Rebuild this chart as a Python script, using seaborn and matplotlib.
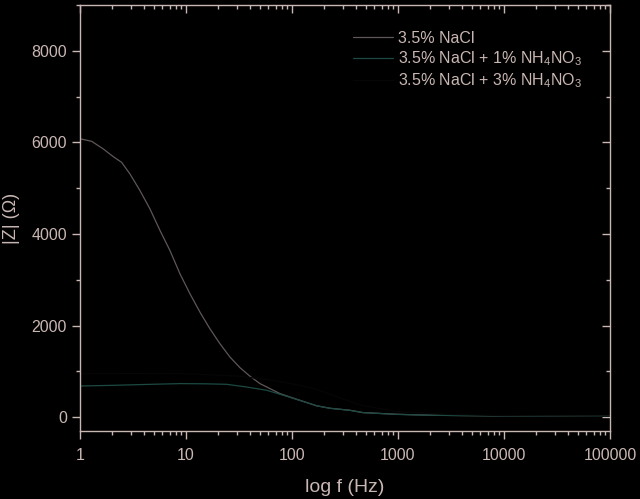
import numpy as np
import pandas as pd
import matplotlib
matplotlib.use("Agg")
import matplotlib.pyplot as plt
import seaborn as sns
from matplotlib.ticker import FixedLocator, FuncFormatter, MultipleLocator, LogLocator, NullFormatter

# --- data ---
freq_nacl = [1, 1.29, 1.66, 2.06, 2.47, 2.96, 3.68, 4.57, 5.69, 7.06, 8.77, 10.9,
             13.55, 16.8, 20.9, 26.0, 32.3, 40.2, 49.9, 61.9, 77.1, 95.7, 119,
             171, 230, 352, 468, 977, 1995, 4074, 10000, 30000, 100000]
z_nacl = [6080, 6023, 5857, 5689, 5565, 5312, 4948, 4549, 4076, 3640, 3132, 2696,
          2295, 1934, 1606, 1314, 1083, 894, 734, 626, 516, 442, 370,
          250, 195, 153, 102, 65, 44, 37, 30, 25, 22]

freq_1pct = [1, 2.06, 4.5, 8.77, 15, 24.2, 37.3, 57.7, 82.8, 119, 171, 230, 352,
             468, 977, 1995, 4074, 10000, 30000, 100000]
z_1pct = [682, 697, 718, 734, 730, 719, 660, 589, 480, 365, 250, 195, 150,
          100, 62, 44, 35, 28, 24, 20]

freq_3pct = [1, 3, 10, 30, 60, 100, 160, 230, 447, 1000, 3162, 10000, 100000]
z_3pct = [950, 955, 950, 900, 820, 730, 630, 500, 262, 120, 60, 35, 25]

labels = ["3.5% NaCl", "3.5% NaCl + 1% NH$_4$NO$_3$", "3.5% NaCl + 3% NH$_4$NO$_3$"]

df = pd.concat([
    pd.DataFrame({"f": freq_nacl, "Z": z_nacl, "s": labels[0]}),
    pd.DataFrame({"f": freq_1pct, "Z": z_1pct, "s": labels[1]}),
    pd.DataFrame({"f": freq_3pct, "Z": z_3pct, "s": labels[2]}),
])

fg = "#c9b7b3"
sns.set_theme(style="ticks")
plt.rcParams["font.family"] = ["Liberation Sans", "DejaVu Sans"]
plt.rcParams["mathtext.fontset"] = "custom"
plt.rcParams["mathtext.rm"] = "Liberation Sans"
plt.rcParams["mathtext.it"] = "Liberation Sans"

fig = plt.figure(figsize=(6.4, 4.99), dpi=100, facecolor="black")
ax = fig.add_axes([0.125, 0.1363, 0.828, 0.8537])
ax.set_facecolor("black")

palette = {labels[0]: "#5f5757", labels[1]: "#1c4a42", labels[2]: "#060606"}
sns.lineplot(data=df, x="f", y="Z", hue="s", palette=palette, ax=ax,
             linewidth=0.9, estimator=None, sort=True)

ax.set_xscale("log")
ax.set_xlim(1, 100000)
ax.set_ylim(-300, 9000)

ax.xaxis.set_major_locator(FixedLocator([1, 10, 100, 1000, 10000, 100000]))
ax.xaxis.set_major_formatter(FuncFormatter(lambda v, p: f"{int(round(v))}"))
ax.xaxis.set_minor_locator(LogLocator(base=10, subs=np.arange(2, 10), numticks=20))
ax.xaxis.set_minor_formatter(NullFormatter())
ax.yaxis.set_major_locator(MultipleLocator(2000))
ax.yaxis.set_minor_locator(MultipleLocator(1000))

for s in ax.spines.values():
    s.set_color(fg)
    s.set_linewidth(1.0)
    s.set_visible(True)

ax.tick_params(axis="both", which="both", colors=fg, labelcolor=fg, labelsize=11.5,
               top=True, right=True, width=1.0)
ax.tick_params(axis="x", which="major", direction="out", length=6, pad=6)
ax.tick_params(axis="x", which="minor", direction="out", length=3)
ax.tick_params(axis="y", which="major", direction="out", length=6)
ax.tick_params(axis="y", which="minor", direction="out", length=3)
for t in ax.xaxis.get_ticklines(minor=False)[1::2] + ax.xaxis.get_ticklines(minor=True)[1::2]:
    t.set_marker(3)
for t in ax.yaxis.get_ticklines(minor=False)[1::2] + ax.yaxis.get_ticklines(minor=True)[1::2]:
    t.set_marker(0)

ax.set_xlabel("log f (Hz)", color=fg, fontsize=14, labelpad=12)
ax.set_ylabel("|Z| (\u03a9)", color=fg, fontsize=13, labelpad=8)

leg = ax.legend(loc="upper left", bbox_to_anchor=(0.515, 0.939), frameon=False,
                fontsize=11.5, handlelength=2.5, labelspacing=0.22, handletextpad=0.3,
                borderpad=0, borderaxespad=0)
for t in leg.get_texts():
    t.set_color(fg)

fig.savefig("out.png", dpi=100, facecolor="black")
